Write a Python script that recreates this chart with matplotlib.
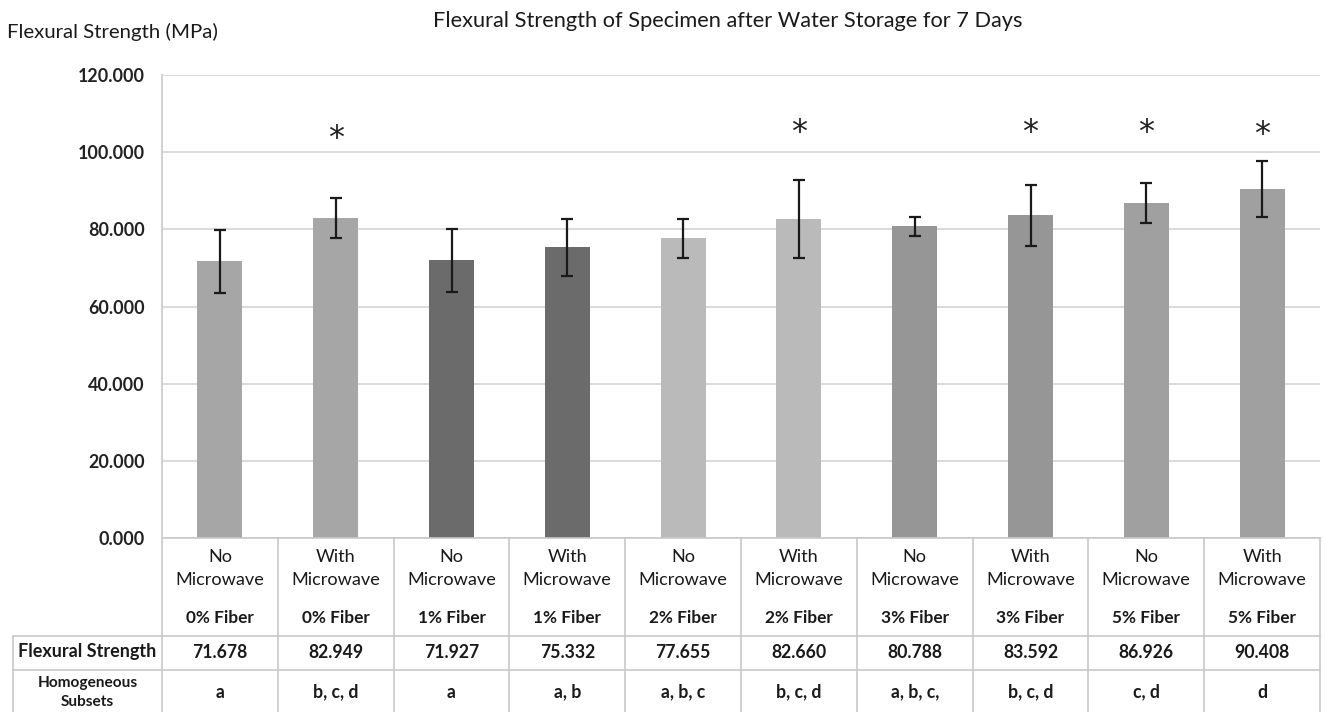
import matplotlib.pyplot as plt
from matplotlib.lines import Line2D

plt.rcParams['font.family'] = ['Lato', 'DejaVu Sans']

microwave = ['No', 'With'] * 5
fiber = ['0% Fiber', '0% Fiber', '1% Fiber', '1% Fiber', '2% Fiber',
         '2% Fiber', '3% Fiber', '3% Fiber', '5% Fiber', '5% Fiber']
strength = [71.678, 82.949, 71.927, 75.332, 77.655, 82.660, 80.788, 83.592, 86.926, 90.408]
errors = [8.2, 5.2, 8.1, 7.3, 5.0, 10.1, 2.4, 8.0, 5.2, 7.2]
subsets = ['a', 'b, c, d', 'a', 'a, b', 'a, b, c', 'b, c, d', 'a, b, c,', 'b, c, d', 'c, d', 'd']
significant = [False, True, False, False, False, True, False, True, True, True]
star_level = [0, 103.6, 0, 0, 0, 105, 0, 105, 105, 104.5]
bar_colors = ['#a6a6a6', '#a6a6a6', '#6b6b6b', '#6b6b6b', '#bababa',
              '#bababa', '#969696', '#969696', '#a0a0a0', '#a0a0a0']

W, H = 1325, 712
fig = plt.figure(figsize=(W / 100, H / 100), dpi=100)
renderer = fig.canvas.get_renderer()


def size_for(s, px, **kw):
    # font size that makes the string px pixels wide
    t = fig.text(0, 0, s, fontsize=10, **kw)
    w = t.get_window_extent(renderer).width
    t.remove()
    return 10 * px / w


ax = fig.add_axes([162 / W, (H - 538) / H, (1320 - 162) / W, 463 / H])

x = list(range(len(strength)))
ax.bar(x, strength, width=0.39, color=bar_colors, zorder=2)
ax.errorbar(x, strength, yerr=errors, fmt='none', ecolor='#1a1a1a', elinewidth=1.6,
            capsize=4, capthick=1.6, zorder=3)
for i in x:
    if significant[i]:
        ax.text(i, star_level[i], '*', ha='center', va='center', fontsize=23,
                family='DejaVu Sans', color='#222222')

ax.set_xlim(-0.5, 9.5)
ax.set_ylim(0, 120)
ax.set_yticks(range(0, 121, 20))
tick_size = size_for('120.000', 67, fontweight='bold')
ax.set_yticklabels(['%.3f' % v for v in range(0, 121, 20)], fontsize=tick_size,
                   fontweight='bold', color='#222222')
ax.tick_params(axis='y', length=0, pad=12.5)
ax.set_xticks([])
ax.grid(axis='y', color='#d9d9d9', linewidth=1.4, zorder=0)
for s in ['top', 'right', 'bottom']:
    ax.spines[s].set_visible(False)
ax.spines['left'].set_color('#d0d0d0')
ax.spines['left'].set_linewidth(1.4)

title = 'Flexural Strength of Specimen after Water Storage for 7 Days'
fig.text(728 / W, 1 - 27 / H, title, ha='center', va='baseline',
         fontsize=size_for(title, 590), color='#1a1a1a')
ylab = 'Flexural Strength (MPa)'
fig.text(7 / W, 1 - 38 / H, ylab, ha='left', va='baseline',
         fontsize=size_for(ylab, 211), color='#1a1a1a')

# table under the axes
tr = ax.get_xaxis_transform()


def fy(py):
    # pixel row -> axes fraction
    return (538 - py) / 463


line_kw = dict(color='#c8c8c8', linewidth=1.2, transform=tr, clip_on=False)
x_left = (13 - 162) / 115.8 - 0.5
ax.add_line(Line2D([-0.5, 9.5], [0, 0], **line_kw))
ax.add_line(Line2D([x_left, 9.5], [fy(636), fy(636)], **line_kw))
ax.add_line(Line2D([x_left, 9.5], [fy(670), fy(670)], **line_kw))
ax.add_line(Line2D([x_left, x_left], [fy(636), fy(715)], **line_kw))
for k in range(11):
    ax.add_line(Line2D([k - 0.5, k - 0.5], [0, fy(715)], **line_kw))

mw_size = size_for('Microwave', 89)
fib_size = size_for('0% Fiber', 68, fontweight='bold')
val_size = size_for('71.678', 55, fontweight='bold')
txt = dict(transform=tr, ha='center', va='center', color='#1a1a1a')
for i in x:
    ax.text(i, fy(557), microwave[i], fontsize=mw_size, **txt)
    ax.text(i, fy(580), 'Microwave', fontsize=mw_size, **txt)
    ax.text(i, fy(618), fiber[i], fontsize=fib_size, fontweight='bold', **txt)
    ax.text(i, fy(652), '%.3f' % strength[i], fontsize=val_size, fontweight='bold', **txt)
    ax.text(i, fy(692), subsets[i], fontsize=val_size, fontweight='bold', **txt)

xmid = (x_left - 0.5) / 2
ax.text(xmid, fy(652), 'Flexural Strength', fontweight='bold',
        fontsize=size_for('Flexural Strength', 138, fontweight='bold'), **txt)
hom_size = size_for('Homogeneous', 100, fontweight='bold')
ax.text(xmid, fy(683), 'Homogeneous', fontsize=hom_size, fontweight='bold', **txt)
ax.text(xmid, fy(702), 'Subsets', fontsize=hom_size, fontweight='bold', **txt)

fig.savefig('out.png', dpi=100)
